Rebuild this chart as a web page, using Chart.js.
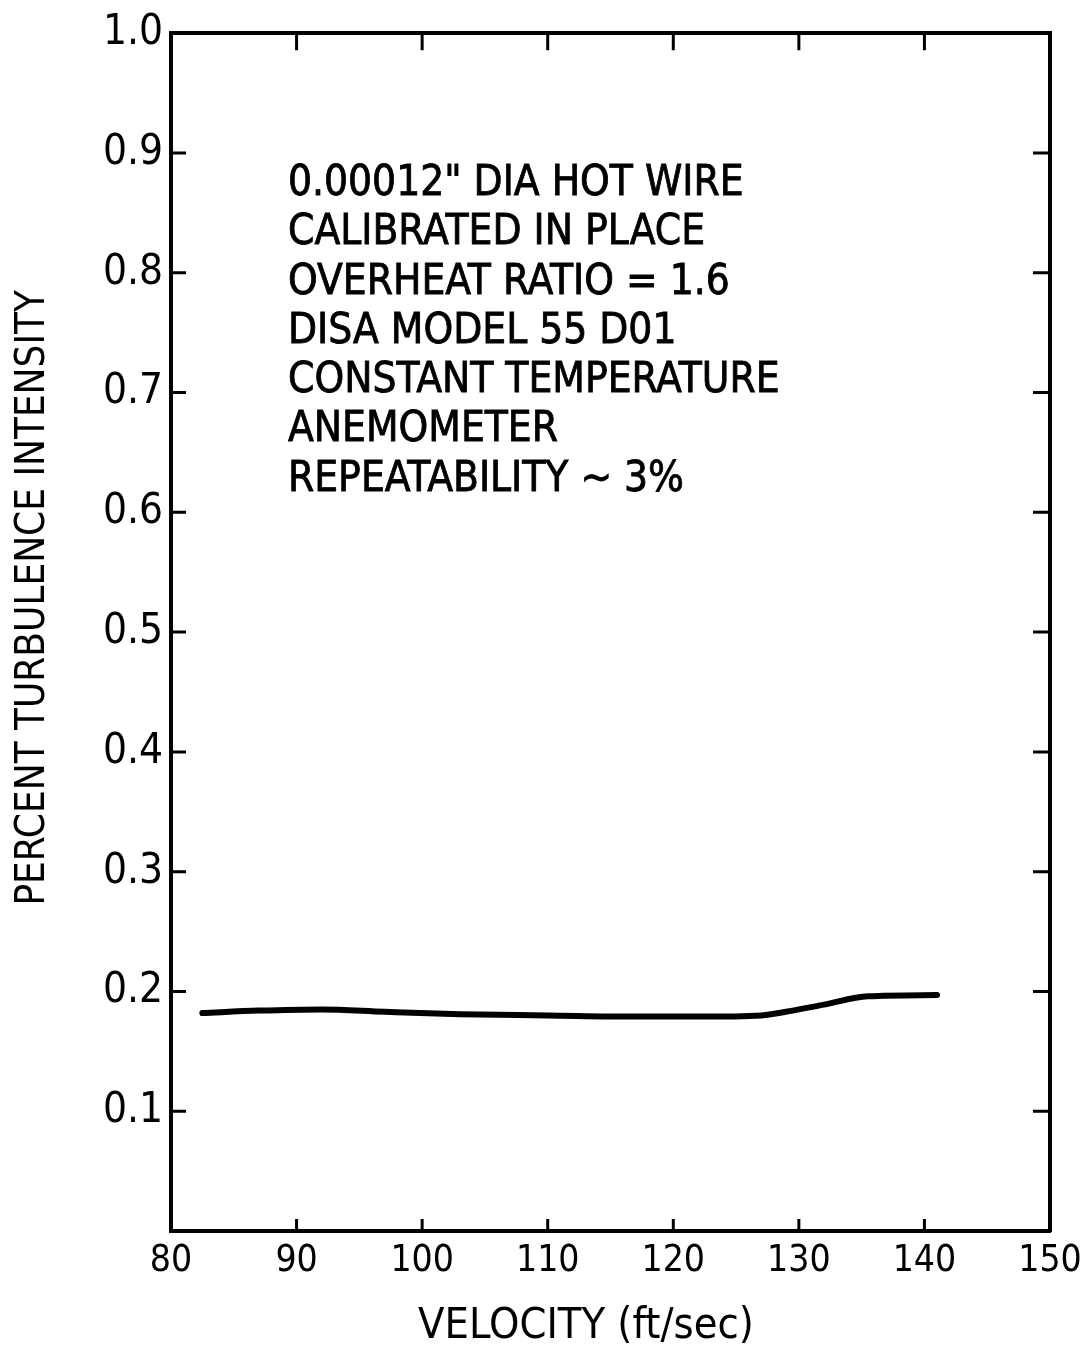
<!DOCTYPE html>
<html>
<head>
<meta charset="utf-8">
<script src="https://cdn.jsdelivr.net/npm/chart.js@4/dist/chart.umd.min.js"></script>
<style>
  html, body { margin: 0; padding: 0; background: #fff; }
  #wrap { width: 1082px; height: 1353px; }
</style>
</head>
<body>
<div id="wrap"><canvas id="c" width="1082" height="1353"></canvas></div>
<script>
// Hot-wire turbulence intensity versus free-stream velocity
const velocity = [82.5, 87, 92, 97, 103, 110, 117, 122, 127, 129.5, 132, 135.5, 141];
const turbulence = [0.182, 0.184, 0.185, 0.183, 0.181, 0.180, 0.179, 0.179, 0.180, 0.184, 0.189, 0.196, 0.197];

const xTicks = [80, 90, 100, 110, 120, 130, 140, 150];
const yTicks = [0.1, 0.2, 0.3, 0.4, 0.5, 0.6, 0.7, 0.8, 0.9, 1.0];

const noteLines = [
  '0.00012" DIA HOT WIRE',
  'CALIBRATED IN PLACE',
  'OVERHEAT RATIO = 1.6',
  'DISA MODEL 55 D01',
  'CONSTANT TEMPERATURE',
  'ANEMOMETER',
  'REPEATABILITY ~ 3%'
];

const FONT = '"DejaVu Sans Condensed", "Liberation Sans Narrow", "DejaVu Sans", sans-serif';

// Short inward tick marks on all four sides of the frame
const frameTicks = {
  id: 'frameTicks',
  afterDatasetsDraw(chart) {
    const { ctx, chartArea: a, scales: { x, y } } = chart;
    ctx.save();
    ctx.strokeStyle = '#000';
    ctx.lineWidth = 3;
    ctx.beginPath();
    xTicks.forEach(v => {
      if (v <= x.min || v >= x.max) return;
      const px = x.getPixelForValue(v);
      ctx.moveTo(px, a.bottom); ctx.lineTo(px, a.bottom - 12);
      ctx.moveTo(px, a.top); ctx.lineTo(px, a.top + 17);
    });
    yTicks.forEach(v => {
      if (v <= y.min || v >= y.max) return;
      const py = y.getPixelForValue(v);
      ctx.moveTo(a.left, py); ctx.lineTo(a.left + 15, py);
      ctx.moveTo(a.right, py); ctx.lineTo(a.right - 17, py);
    });
    ctx.stroke();
    ctx.restore();
  }
};

// Test-condition note inside the plot area
const notes = {
  id: 'notes',
  afterDraw(chart) {
    const { ctx, chartArea: a } = chart;
    ctx.save();
    ctx.fillStyle = '#000';
    ctx.strokeStyle = '#000';
    ctx.lineWidth = 0.8;
    ctx.font = '42px ' + FONT;
    ctx.textBaseline = 'middle';
    ctx.textAlign = 'left';
    const left = a.left + 117;
    noteLines.forEach((t, i) => {
      const yy = 184 + i * 49.3;
      ctx.fillText(t, left, yy);
      ctx.strokeText(t, left, yy);
    });
    ctx.restore();
  }
};

new Chart(document.getElementById('c'), {
  type: 'line',
  data: {
    datasets: [{
      data: velocity.map((v, i) => ({ x: v, y: turbulence[i] })),
      borderColor: '#000',
      borderWidth: 6,
      pointRadius: 0,
      fill: false,
      tension: 0.4,
      cubicInterpolationMode: 'monotone',
      borderCapStyle: 'round'
    }]
  },
  options: {
    responsive: false,
    animation: false,
    layout: { padding: { top: 31, right: 32, left: 0, bottom: 0 } },
    plugins: { legend: { display: false }, tooltip: { enabled: false } },
    scales: {
      x: {
        type: 'linear',
        min: 80, max: 150,
        afterBuildTicks: s => { s.ticks = xTicks.map(v => ({ value: v })); },
        afterFit: s => { s.height = 122; s.paddingLeft = 0; s.paddingRight = 0; },
        grid: { display: true, drawOnChartArea: false, drawTicks: false, color: '#000' },
        border: { display: true, color: '#000', width: 4 },
        ticks: {
          color: '#000', padding: 8, maxRotation: 0,
          font: { family: FONT, size: 37 },
          callback: v => String(v)
        },
        title: {
          display: true, text: 'VELOCITY (ft/sec)    ', color: '#000',
          font: { family: FONT, size: 43 }, padding: { top: 12, bottom: 0 }
        }
      },
      y: {
        type: 'linear',
        min: 0, max: 1.0,
        afterBuildTicks: s => { s.ticks = yTicks.map(v => ({ value: v })); },
        afterFit: s => { s.width = 171; },
        grid: { display: true, drawOnChartArea: false, drawTicks: false, color: '#000' },
        border: { display: true, color: '#000', width: 4 },
        ticks: {
          color: '#000', padding: 8,
          font: { family: FONT, size: 42 },
          callback: v => Number(v).toFixed(1)
        },
        title: {
          display: true, text: '      PERCENT TURBULENCE INTENSITY', color: '#000',
          font: { family: FONT, size: 40 }, padding: { top: 10, bottom: 0 }
        }
      },
      x2: {
        type: 'linear', position: 'top', min: 80, max: 150,
        afterFit: s => { s.height = 0; s.paddingLeft = 0; s.paddingRight = 0; },
        grid: { display: false, drawTicks: false },
        border: { display: true, color: '#000', width: 4 },
        ticks: { display: false }
      },
      y2: {
        type: 'linear', position: 'right', min: 0, max: 1.0,
        afterFit: s => { s.width = 0; s.paddingTop = 0; s.paddingBottom = 0; },
        grid: { display: false, drawTicks: false },
        border: { display: true, color: '#000', width: 4 },
        ticks: { display: false }
      }
    }
  },
  plugins: [frameTicks, notes]
});
</script>
</body>
</html>
